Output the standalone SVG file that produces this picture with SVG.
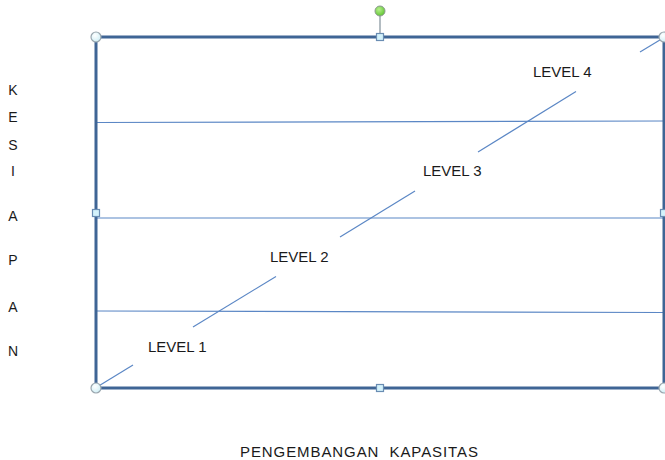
<svg xmlns="http://www.w3.org/2000/svg" width="665" height="460" viewBox="0 0 665 460">
  <defs>
    <radialGradient id="handleFill" cx="40%" cy="35%" r="70%">
      <stop offset="0" stop-color="#ffffff"/>
      <stop offset="1" stop-color="#cdeef5"/>
    </radialGradient>
    <radialGradient id="rotFill" cx="40%" cy="35%" r="70%">
      <stop offset="0" stop-color="#b6f08c"/>
      <stop offset="1" stop-color="#5cc22e"/>
    </radialGradient>
  </defs>
  <style>
    .frame { fill: none; stroke: #3f6595; stroke-width: 3; }
    .thin { fill: none; stroke: #5b87c5; stroke-width: 1.2; }
    .lbl { font-family: "Liberation Sans", Arial, sans-serif; font-size: 15px; fill: #1a1a1a; }
    .axis { font-family: "Liberation Sans", Arial, sans-serif; font-size: 14px; fill: #1a1a1a; text-anchor: middle; }
    .corner { fill: url(#handleFill); stroke: #9aa6ae; stroke-width: 1.2; }
    .side { fill: #d4f2fb; stroke: #6a8db3; stroke-width: 1.2; }
  </style>
  <rect width="665" height="460" fill="#ffffff"/>

  <!-- horizontal band dividers and the rising diagonal -->
  <g id="connectors">
    <line class="thin" x1="97" y1="122.5" x2="664" y2="121"/>
    <line class="thin" x1="97" y1="218" x2="664" y2="218"/>
    <line class="thin" x1="97" y1="311" x2="664" y2="312.5"/>
    <line class="thin" x1="97" y1="387" x2="133" y2="365"/>
    <line class="thin" x1="193" y1="327" x2="276" y2="276.5"/>
    <line class="thin" x1="340" y1="237" x2="415" y2="191"/>
    <line class="thin" x1="478" y1="152" x2="576" y2="91.5"/>
    <line class="thin" x1="640" y1="52" x2="664" y2="37.5"/>
  </g>

  <!-- outer frame -->
  <g id="frame">
    <rect class="frame" x="96" y="37" width="568" height="351"/>
    <line x1="380" y1="37" x2="380" y2="12" stroke="#9aa6ae" stroke-width="1.5"/>
  </g>

  <!-- selection handles -->
  <g id="handles">
    <circle cx="380" cy="11" r="5" fill="url(#rotFill)" stroke="#8c9a90" stroke-width="1"/>
    <circle class="corner" cx="96" cy="37" r="5"/>
    <circle class="corner" cx="664" cy="37" r="5"/>
    <circle class="corner" cx="96" cy="388" r="5"/>
    <circle class="corner" cx="664" cy="388" r="5"/>
    <rect class="side" x="376.5" y="33.5" width="7" height="7"/>
    <rect class="side" x="376.5" y="384.5" width="7" height="7"/>
    <rect class="side" x="92.5" y="209.5" width="7" height="7"/>
    <rect class="side" x="660.5" y="209.5" width="7" height="7"/>
  </g>

  <g id="level1"><text class="lbl" x="148" y="352">LEVEL 1</text></g>
  <g id="level2"><text class="lbl" x="270" y="262">LEVEL 2</text></g>
  <g id="level3"><text class="lbl" x="423" y="176">LEVEL 3</text></g>
  <g id="level4"><text class="lbl" x="533" y="77">LEVEL 4</text></g>

  <!-- vertical axis title -->
  <g id="axis-y">
    <text class="axis" x="13" y="95">K</text>
    <text class="axis" x="13" y="122">E</text>
    <text class="axis" x="13" y="150">S</text>
    <text class="axis" x="13" y="176">I</text>
    <text class="axis" x="13" y="221">A</text>
    <text class="axis" x="13" y="265">P</text>
    <text class="axis" x="13" y="312">A</text>
    <text class="axis" x="13" y="356">N</text>
  </g>

  <!-- horizontal axis title -->
  <g id="axis-x">
    <text class="lbl" x="240" y="457" textLength="238" lengthAdjust="spacing" xml:space="preserve">PENGEMBANGAN  KAPASITAS</text>
  </g>
</svg>
